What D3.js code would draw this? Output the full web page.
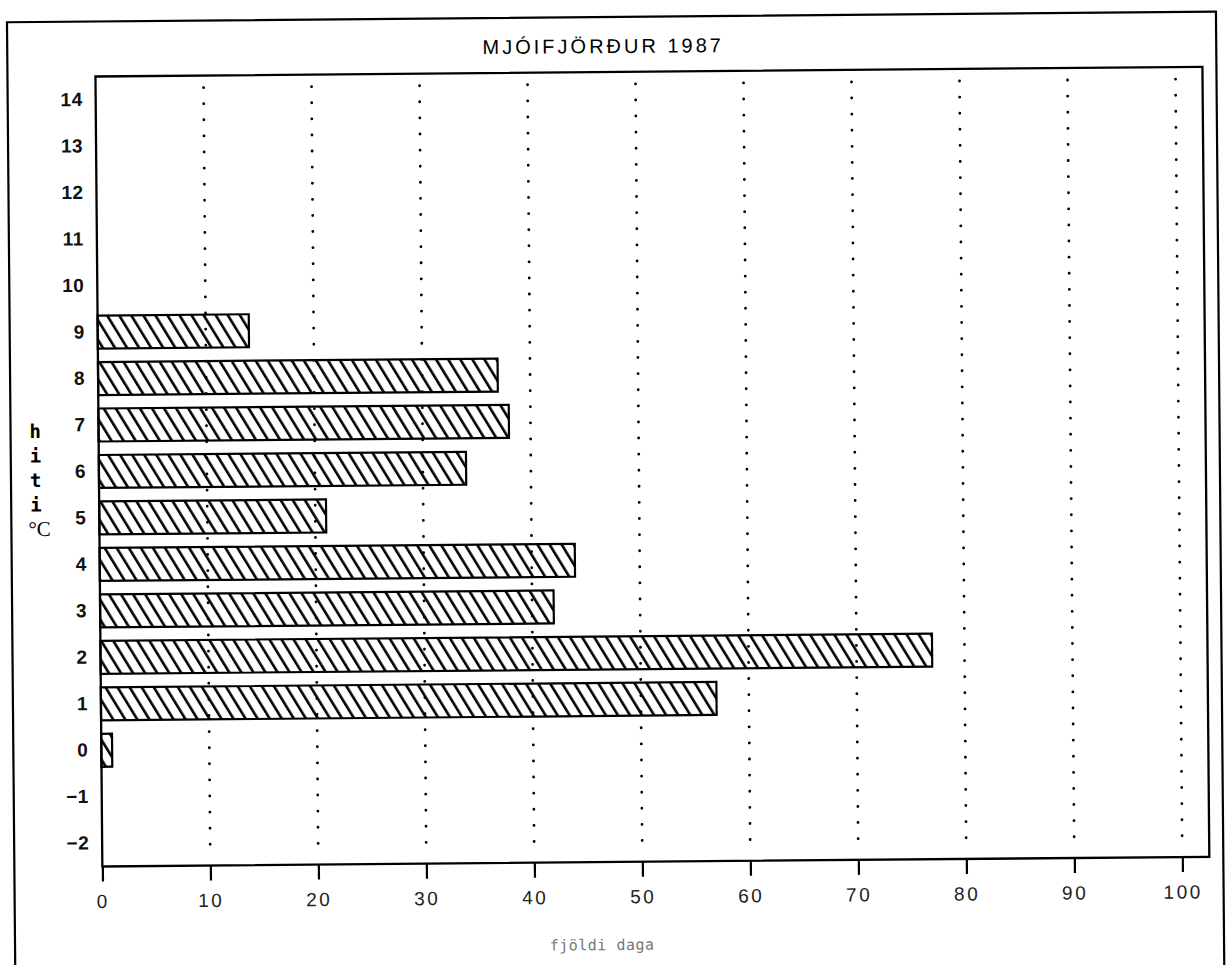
<!DOCTYPE html>
<html>
<head>
<meta charset="utf-8">
<script src="https://cdn.jsdelivr.net/npm/d3@7/dist/d3.min.js"></script>
<style>
  html, body { margin: 0; padding: 0; background: #fff; }
  svg { display: block; }
</style>
</head>
<body>
<svg id="chart" width="1227" height="965"></svg>
<script>
// ---- data ----
const titleText = "MJÓIFJÖRÐUR 1987";
const categories = [-2, -1, 0, 1, 2, 3, 4, 5, 6, 7, 8, 9, 10, 11, 12, 13, 14];
const days       = [ 0,  0, 1, 57, 77, 42, 44, 21, 34, 38, 37, 14, 0, 0, 0, 0, 0];
const xTicks = [0, 10, 20, 30, 40, 50, 60, 70, 80, 90, 100];
const yTitle = ["h", "i", "t", "i", "°C"];
const xTitle = "fjöldi daga";

// ---- layout ----
const plot = { left: 99, top: 72, right: 1206, bottom: 862 };

const svg = d3.select("#chart");
const defs = svg.append("defs");
defs.append("pattern")
  .attr("id", "hatch")
  .attr("patternUnits", "userSpaceOnUse")
  .attr("width", 10.3).attr("height", 10.3)
  .attr("patternTransform", "rotate(-31)")
  .append("line")
  .attr("x1", 5).attr("y1", -2).attr("x2", 5).attr("y2", 13)
  .attr("stroke", "#000").attr("stroke-width", 2.6);

const g = svg.append("g").attr("transform", "rotate(-0.5, 613, 480)");

// outer frame
g.append("rect")
  .attr("x", 11).attr("y", 17).attr("width", 1209).attr("height", 1000)
  .attr("fill", "none").attr("stroke", "#000").attr("stroke-width", 2.2);

const x = d3.scaleLinear().domain([0, 100]).range([plot.left, 1179]);
const y = d3.scaleBand().domain(categories.slice().reverse())
  .range([plot.top, plot.bottom]).paddingInner(0.29).paddingOuter(0.145);

// gridlines (dotted)
g.append("g").selectAll("line")
  .data(xTicks.filter(d => d > 0))
  .join("line")
  .attr("x1", d => x(d)).attr("x2", d => x(d))
  .attr("y1", plot.top + 12).attr("y2", plot.bottom - 6)
  .attr("stroke", "#000").attr("stroke-width", 2.8)
  .attr("stroke-linecap", "round")
  .attr("stroke-dasharray", "0.1,16");

// bars
const data = categories.map((c, i) => ({ c, v: days[i] })).filter(d => d.v > 0);
g.append("g").selectAll("rect")
  .data(data)
  .join("rect")
  .attr("x", x(0))
  .attr("y", d => y(d.c))
  .attr("width", d => x(d.v) - x(0))
  .attr("height", y.bandwidth())
  .attr("fill", "url(#hatch)")
  .attr("stroke", "#000").attr("stroke-width", 2.2);

// plot frame
g.append("rect")
  .attr("x", plot.left).attr("y", plot.top)
  .attr("width", plot.right - plot.left).attr("height", plot.bottom - plot.top)
  .attr("fill", "none").attr("stroke", "#000").attr("stroke-width", 2.3);

// x axis
const xAxis = d3.axisBottom(x).tickValues(xTicks).tickSize(15).tickPadding(13);
const xa = g.append("g").attr("transform", `translate(0,${plot.bottom})`).call(xAxis);
xa.select(".domain").remove();
xa.selectAll(".tick line").attr("stroke", "#000").attr("stroke-width", 2.2);
xa.selectAll(".tick text")
  .attr("font-family", "'Liberation Sans', sans-serif")
  .attr("font-size", 19).attr("letter-spacing", 2.5)
  .attr("fill", "#222");

// y axis
const yAxis = d3.axisLeft(y).tickSize(0).tickPadding(13);
const ya = g.append("g").attr("transform", `translate(${plot.left},0)`).call(yAxis);
ya.select(".domain").remove();
ya.selectAll(".tick text")
  .attr("font-family", "'Liberation Sans', sans-serif")
  .attr("font-size", 19).attr("font-weight", "bold")
  .attr("letter-spacing", 0.5)
  .attr("fill", "#111")
  .text(d => d < 0 ? "\u2212" + Math.abs(d) : d);

// title
g.append("text")
  .attr("x", 607).attr("y", 53)
  .attr("text-anchor", "middle")
  .attr("font-family", "'Liberation Sans', sans-serif")
  .attr("font-size", 20).attr("letter-spacing", 3)
  .attr("fill", "#000")
  .text(titleText);

// y title (stacked)
const yt = g.append("g");
yt.selectAll("text")
  .data(yTitle)
  .join("text")
  .attr("x", (d, i) => i === 4 ? 28 : 30)
  .attr("y", (d, i) => 433 + i * 24.5)
  .attr("font-family", (d, i) => i === 4 ? "'Liberation Serif', serif" : "'DejaVu Sans Mono', monospace")
  .attr("font-size", (d, i) => i === 4 ? 21 : 19)
  .attr("font-weight", (d, i) => i === 4 ? "normal" : "bold")
  .attr("fill", "#000")
  .text(d => d);

// x title
g.append("text")
  .attr("x", 598).attr("y", 950)
  .attr("text-anchor", "middle")
  .attr("font-family", "'DejaVu Sans Mono', monospace")
  .attr("font-size", 15).attr("letter-spacing", 0.5)
  .attr("fill", "#777")
  .text(xTitle);
</script>
</body>
</html>
